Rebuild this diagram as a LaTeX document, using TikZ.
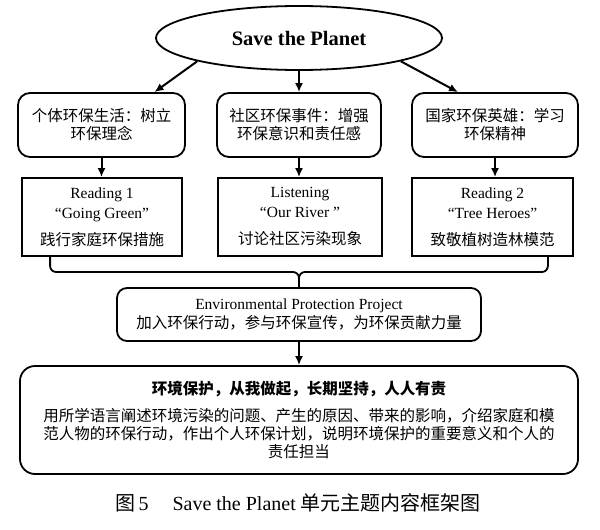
\documentclass[tikz,border=0pt]{standalone}
\usepackage{fontspec}
\setmainfont{Liberation Serif}
\newfontfamily\cjk{Noto Sans CJK SC}
\usetikzlibrary{shapes.geometric,arrows.meta,calc}
\begin{document}
\begin{tikzpicture}[x=1pt,y=-1pt,
  base/.style={draw, line width=1.8pt, align=center, inner sep=0pt,
    font=\fontsize{15.5}{18}\selectfont},
  rbox/.style={base, rounded corners=12pt},
  sbox/.style={base},
  conn/.style={line width=2pt, -{Latex[length=9pt,width=8pt]}},
  brk/.style={line width=1.8pt, rounded corners=6pt}]
\useasboundingbox[fill=white] (0,0) rectangle (600,530);

\node[base, ellipse, minimum width=286pt, minimum height=64pt,
  font=\bfseries\fontsize{20.5}{24}\selectfont] (ell) at (299,38) {Save the Planet};

\node[rbox, minimum width=167pt, minimum height=64pt] (r1a) at (101.5,125)
  {\cjk 个体环保生活：树立\\\cjk 环保理念};
\node[rbox, minimum width=164pt, minimum height=64pt] (r1b) at (299,125)
  {\cjk 社区环保事件：增强\\\cjk 环保意识和责任感};
\node[rbox, minimum width=166pt, minimum height=64pt] (r1c) at (495,125)
  {\cjk 国家环保英雄：学习\\\cjk 环保精神};

\node[sbox, minimum width=160pt, minimum height=78pt] (r2a) at (102,217)
  {Reading 1\\[2pt]“Going Green”\\[9pt]\cjk 践行家庭环保措施};
\node[sbox, minimum width=164pt, minimum height=78pt] (r2b) at (300,217)
  {Listening\\[2pt]“Our River ”\\[9pt]\cjk 讨论社区污染现象};
\node[sbox, minimum width=161pt, minimum height=78pt] (r2c) at (492.5,217)
  {Reading 2\\[2pt]“Tree Heroes”\\[9pt]\cjk 致敬植树造林模范};

\node[rbox, rounded corners=10pt, minimum width=364pt, minimum height=53pt] (proj) at (299,314.5)
  {Environmental Protection Project\\[1pt]\cjk 加入环保行动，参与环保宣传，为环保贡献力量};

\node[rbox, rounded corners=15pt, minimum width=558pt, minimum height=108pt] (fin) at (299,420)
  {\cjk\bfseries 环境保护，从我做起，长期坚持，人人有责\\[9pt]
   \cjk 用所学语言阐述环境污染的问题、产生的原因、带来的影响，介绍家庭和模\\
   \cjk 范人物的环保行动，作出个人环保计划，说明环境保护的重要意义和个人的\\
   \cjk 责任担当};

\node[font=\fontsize{20}{24}\selectfont, inner sep=0pt] (cap) at (298,503)
  {{\cjk 图}\,5\hspace{1.2em}Save the Planet {\cjk 单元主题内容框架图}};

\draw[conn] (ell.south west) -- ([xshift=53pt]r1a.north);
\draw[conn] (ell.south) -- (r1b.north);
\draw[conn] (ell.south east) -- ([xshift=-37pt]r1c.north);

\draw[conn] (r1a.south) -- (r1a.south |- r2a.north);
\draw[conn] (r1b.south) -- (r1b.south |- r2b.north);
\draw[conn] (r1c.south) -- (r1c.south |- r2c.north);

\draw[brk] ([xshift=29pt]r2a.south west) |- (proj.north |- 0,272) -- (proj.north);
\draw[brk] ([xshift=-26pt]r2c.south east) |- (proj.north |- 0,272) -- (proj.north);

\draw[conn] (proj.south) -- (fin.north);
\end{tikzpicture}
\end{document}
